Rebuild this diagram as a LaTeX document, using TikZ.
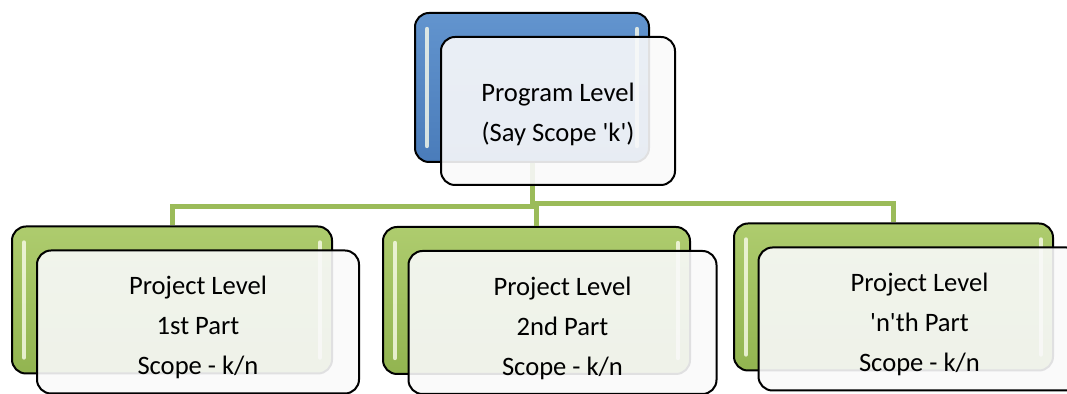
\documentclass[tikz,border=0pt]{standalone}
\usepackage{fontspec}
\setmainfont{Carlito}
\usetikzlibrary{calc, positioning}
\definecolor{progblue}{RGB}{74,124,186}
\definecolor{progbluetop}{RGB}{98,148,206}
\definecolor{projgreen}{RGB}{146,180,80}
\definecolor{projgreentop}{RGB}{174,204,110}
\definecolor{linkgreen}{RGB}{155,187,89}
\definecolor{frontfill}{RGB}{249,249,250}
\definecolor{gloss}{RGB}{250,252,235}

\tikzset{
  backbox/.style={draw=black, line width=1pt, rounded corners=7pt, inner sep=0pt,
    path picture={
      \draw[gloss, opacity=0.8, line width=2.2pt, line cap=round]
        ($(path picture bounding box.north west)+(6pt,-8pt)$) -- ($(path picture bounding box.south west)+(6pt,8pt)$)
        ($(path picture bounding box.north east)+(-6pt,-8pt)$) -- ($(path picture bounding box.south east)+(-6pt,8pt)$);
    }},
  progback/.style={backbox, top color=progbluetop, bottom color=progblue,
    minimum width=117pt, minimum height=74.5pt},
  projback/.style={backbox, top color=projgreentop, bottom color=projgreen,
    minimum height=73.5pt},
  frontbox/.style={draw=black, line width=1pt, rounded corners=7pt, fill=frontfill,
    fill opacity=0.9, text opacity=1, align=center, inner sep=0pt,
    font=\fontsize{13.3}{20}\selectfont},
  link/.style={linkgreen, line width=2.5pt}
}

\begin{document}
\begin{tikzpicture}[x=0.5pt, y=-0.5pt]
  \clip (0,0) rectangle (1067,394);
  % Program level (back card)
  \node[progback] (progback) at (532,87.5) {};
  % Project levels (back cards)
  \foreach \i/\x/\y/\w in {1/172/300/160, 2/536.5/300.5/153.5, 3/893.5/297/159.5} {
    \node[projback, minimum width=\w pt] (proj\i back) at (\x,\y) {};
  }
  % Connectors
  \draw[link] (progback.south) |- ($(proj1back.north)+(0,-19)$) -- (proj1back.north);
  \draw[link] (progback.south) |- ($(proj2back.north)+(0,-20)$) -- (proj2back.north);
  \draw[link] (progback.south) |- ($(proj3back.north)+(0,-19)$) -- (proj3back.north);
  % Front cards with text
  \node[frontbox, minimum width=117pt, minimum height=74pt] (prog) at ($(progback)+(26,23.5)$)
    {\rule{0pt}{13pt}Program Level\\(Say Scope \textquotesingle k\textquotesingle)};
  \foreach \i/\part/\w in {1/1st/161, 2/2nd/154, 3/\textquotesingle n\textquotesingle th/161} {
    \node[frontbox, minimum width=\w pt, minimum height=71.5pt] (proj\i) at ($(proj\i back)+(26,22)$)
      {\rule{0pt}{15pt}Project Level\\\part{} Part\\Scope - k/n};
  }
\end{tikzpicture}
\end{document}
